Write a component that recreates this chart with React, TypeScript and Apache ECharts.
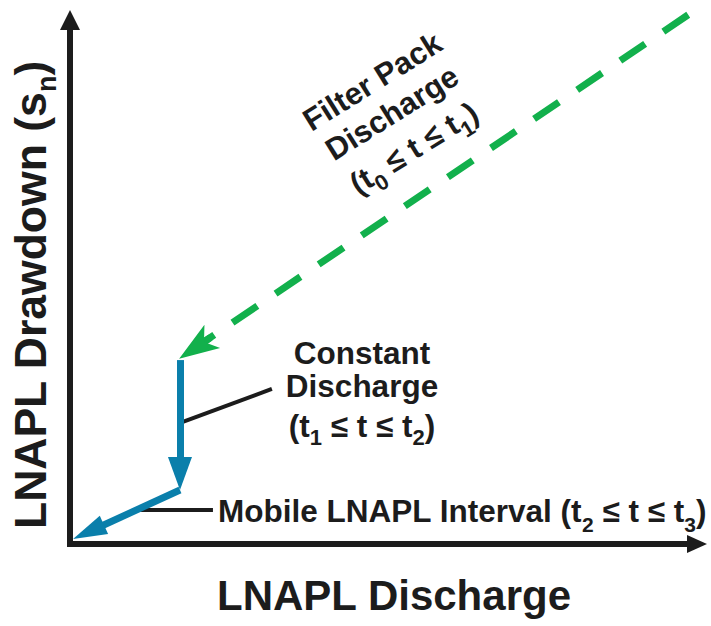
import React, { useEffect, useRef } from 'react';
import * as echarts from 'echarts';

const FONT = '"Liberation Sans", Arial, Helvetica, sans-serif';
const INK = '#1c1c1c';
const GREEN = '#12b04c';
const BLUE = '#0a7fab';

// axis domains (conceptual, unitless)
const xDomain = [0, 100];
const yDomain = [0, 100];

// filter pack discharge (dashed green, arrow at end)
const filterPackX = [98.6, 20.05];
const filterPackY = [101.0, 37.5];
// constant discharge (blue vertical drop)
const constantX = [17.54, 17.54];
const constantY = [35.1, 13.45];
// mobile LNAPL interval (blue, to origin)
const mobileX = [17.54, 2.95];
const mobileY = [10.3, 2.3];
// leader lines to the annotations
const constantLeaderX = [18.0, 32.2];
const constantLeaderY = [23.3, 29.6];
const mobileLeaderX = [11.2, 22.8];
const mobileLeaderY = [6.5, 6.5];

const xTitle = 'LNAPL Discharge';
const yTitle = 'LNAPL Drawdown (s{sub|n})';
const filterLabel = ['Filter Pack', 'Discharge', '{m|(t}{sub|0}{m| ≤ t ≤ t}{sub|1}{m|)}'];
const constantLabel = ['Constant', 'Discharge', '{m|(t}{sub|1}{m| ≤ t ≤ t}{sub|2}{m|)}'];
const mobileLabel = 'Mobile LNAPL Interval (t{sub|2} ≤ t ≤ t{sub|3})';

const NOTCHED_ARROW = 'path://M13,0 L26,36 L13,27 L0,36 Z';

const zip = (xs: number[], ys: number[]) => xs.map((x, i) => [x, ys[i]]);
// short solid tail of a segment (fraction f of its length), used to carry the arrow head
const tail = (xs: number[], ys: number[], f: number) => {
  const n = xs.length - 1;
  return [
    [xs[n] + (xs[n - 1] - xs[n]) * f, ys[n] + (ys[n - 1] - ys[n]) * f],
    [xs[n], ys[n]],
  ];
};

function textEl(
  text: string,
  x: number,
  y: number,
  size: number,
  subSize: number,
  lineHeight: number,
  opts: any = {}
) {
  return {
    type: 'text',
    x,
    y,
    rotation: opts.rotation || 0,
    silent: true,
    style: {
      text,
      fill: INK,
      fontSize: size,
      fontWeight: 'bold',
      fontFamily: FONT,
      align: opts.align || 'center',
      verticalAlign: 'middle',
      lineHeight,
      rich: {
        m: {
          fill: INK,
          fontSize: size,
          fontWeight: 'bold',
          fontFamily: FONT,
          lineHeight: opts.subLineHeight || lineHeight,
        },
        sub: {
          fill: INK,
          fontSize: subSize,
          fontWeight: 'bold',
          fontFamily: FONT,
          lineHeight: 16,
          verticalAlign: 'bottom',
        },
      },
    },
  };
}

export default function App() {
  const ref = useRef<HTMLDivElement>(null);
  useEffect(() => {
    document.body.style.margin = '0';
    if (!ref.current) return;
    const chart = echarts.init(ref.current, null, { renderer: 'svg' });
    const axisCommon = {
      type: 'value',
      axisLabel: { show: false },
      axisTick: { show: false },
      splitLine: { show: false },
    };
    chart.setOption({
      animation: false,
      backgroundColor: '#ffffff',
      grid: { left: 70, right: 14, top: 20, bottom: 82 },
      xAxis: {
        ...axisCommon,
        min: xDomain[0],
        max: xDomain[1],
        axisLine: {
          show: true,
          symbol: ['none', 'triangle'],
          symbolSize: [18, 20],
          lineStyle: { color: INK, width: 6, cap: 'square' },
        },
      },
      yAxis: {
        ...axisCommon,
        min: yDomain[0],
        max: yDomain[1],
        axisLine: {
          show: true,
          symbol: ['none', 'triangle'],
          symbolSize: [20, 20],
          lineStyle: { color: INK, width: 6, cap: 'square' },
        },
      },
      series: [
        {
          type: 'lines',
          coordinateSystem: 'cartesian2d',
          clip: false,
          silent: true,
          z: 3,
          lineStyle: { color: GREEN, width: 7, type: [30, 22], opacity: 1 },
          data: [{ coords: zip(filterPackX, filterPackY) }],
        },
        {
          type: 'lines',
          coordinateSystem: 'cartesian2d',
          clip: false,
          silent: true,
          z: 3,
          symbol: ['none', NOTCHED_ARROW],
          symbolSize: [1, [28, 40]],
          lineStyle: { color: GREEN, width: 7, type: 'solid', opacity: 1 },
          data: [{ coords: tail(filterPackX, filterPackY, 0.03) }],
        },
        {
          type: 'lines',
          coordinateSystem: 'cartesian2d',
          clip: false,
          silent: true,
          z: 2,
          lineStyle: { color: INK, width: 4, opacity: 1 },
          data: [
            { coords: zip(constantLeaderX, constantLeaderY) },
            { coords: zip(mobileLeaderX, mobileLeaderY) },
          ],
        },
        {
          type: 'lines',
          coordinateSystem: 'cartesian2d',
          clip: false,
          silent: true,
          z: 4,
          symbol: ['none', 'triangle'],
          symbolSize: [1, [24, 33]],
          lineStyle: { color: BLUE, width: 7, opacity: 1 },
          data: [{ coords: zip(constantX, constantY) }],
        },
        {
          type: 'lines',
          coordinateSystem: 'cartesian2d',
          clip: false,
          silent: true,
          z: 4,
          symbol: ['none', 'triangle'],
          symbolSize: [1, [20, 34]],
          lineStyle: { color: BLUE, width: 7, opacity: 1 },
          data: [{ coords: zip(mobileX, mobileY) }],
        },
      ],
      graphic: [
        textEl(xTitle, 394, 595, 42, 26, 48),
        textEl(yTitle, 30, 295, 44.5, 27, 60, { rotation: Math.PI / 2 }),
        textEl(filterLabel.join('\n'), 394.4, 116.8, 31, 22, 37, {
          rotation: (32 * Math.PI) / 180,
          subLineHeight: 46,
        }),
        textEl(constantLabel.join('\n'), 362, 392.5, 31.5, 22, 33, { subLineHeight: 46 }),
        textEl(mobileLabel, 218, 511, 31.5, 21, 47, { align: 'left' }),
      ],
    });
    return () => chart.dispose();
  }, []);
  return <div ref={ref} style={{ width: 711, height: 626 }} />;
}
